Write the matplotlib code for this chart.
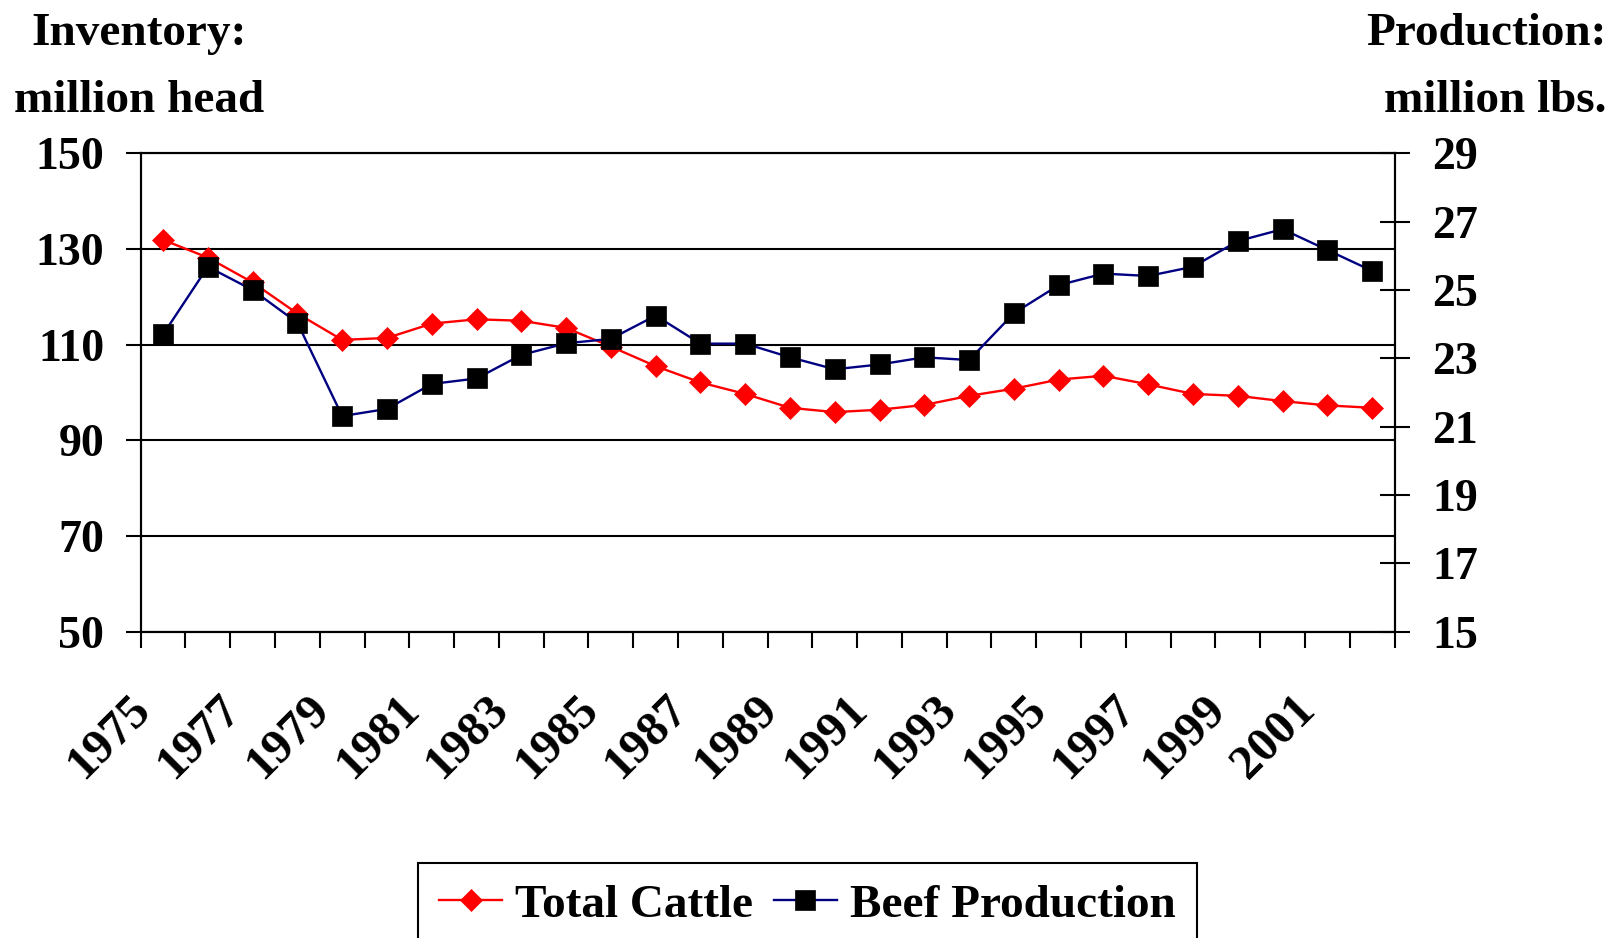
import matplotlib
matplotlib.use("Agg")
import matplotlib.pyplot as plt
import matplotlib.transforms as mtransforms

plt.rcParams['font.family'] = ['Liberation Serif', 'DejaVu Serif']
plt.rcParams['font.weight'] = 'bold'

# ---- data ----
years = list(range(1975, 2003))
total_cattle = [131.9, 128.2, 123.0, 116.5, 111.0, 111.4, 114.4, 115.3, 115.0, 113.5,
                109.6, 105.5, 102.1, 99.7, 96.8, 95.9, 96.4, 97.4, 99.3, 100.8,
                102.7, 103.5, 101.7, 99.7, 99.3, 98.2, 97.3, 96.8]
beef_production = [23.70, 25.68, 25.00, 24.04, 21.31, 21.52, 22.25, 22.41, 23.10, 23.44,
                   23.57, 24.25, 23.43, 23.43, 23.03, 22.68, 22.82, 23.03, 22.95, 24.32,
                   25.14, 25.48, 25.41, 25.68, 26.43, 26.78, 26.17, 25.56]
left_ticks = [50, 70, 90, 110, 130, 150]
right_ticks = [15, 17, 19, 21, 23, 25, 27, 29]
label_years = years[::2]
series_names = ["Total Cattle", "Beef Production"]
left_title = ["Inventory:", "million head"]
right_title = ["Production:", "million lbs."]

W, H, DPI = 1622, 938, 100
fig = plt.figure(figsize=(W / DPI, H / DPI), dpi=DPI)
ax = fig.add_axes([140.7 / W, 1 - 631.7 / H, (1394.5 - 140.7) / W, (631.7 - 153.3) / H])
ax2 = ax.twinx()

x = list(range(len(years)))
ax.set_xlim(-0.5, len(years) - 0.5)
ax.set_ylim(left_ticks[0], left_ticks[-1])
ax2.set_ylim(right_ticks[0], right_ticks[-1])

l1, = ax.plot(x, total_cattle, color='#FF0000', lw=1.7, marker='D', markersize=11.5,
              markerfacecolor='#FF0000', markeredgecolor='#FF0000', markeredgewidth=0.5,
              zorder=3, label=series_names[0])
l2, = ax2.plot(x, beef_production, color='#000080', lw=1.7, marker='s', markersize=14,
               markerfacecolor='black', markeredgecolor='black', markeredgewidth=0.5,
               zorder=3, label=series_names[1])

# grid
ax.set_yticks(left_ticks)
ax.yaxis.grid(True, color='black', lw=1.5)
ax.set_axisbelow(True)
ax.tick_params(axis='y', direction='out', length=10.8, width=1.5, pad=15.6, labelsize=33)
ax2.set_yticks(right_ticks)
ax2.tick_params(axis='y', direction='inout', length=21.6, width=1.5, pad=16.2, labelsize=33)

# x ticks at category boundaries
ax.set_xticks([i - 0.5 for i in range(len(years) + 1)])
ax.set_xticklabels([])
ax.tick_params(axis='x', direction='out', length=11.5, width=1.5)

for a in (ax, ax2):
    for s in a.spines.values():
        s.set_color('black')
        s.set_linewidth(1.5)

# rotated year labels
trans = mtransforms.blended_transform_factory(ax.transData, ax.transAxes) + \
    mtransforms.ScaledTranslation(-35 / DPI, -55 / DPI, fig.dpi_scale_trans)
for i, yr in enumerate(years):
    if yr in label_years:
        ax.text(i, 0, str(yr), transform=trans, rotation=45, ha='right', va='top',
                rotation_mode='anchor', fontsize=35, fontweight='bold')

# axis titles
fig.text(139.5 / W, 1 - 45 / H, left_title[0], ha='center', va='baseline', fontsize=34, fontweight='bold')
fig.text(139.5 / W, 1 - 112 / H, left_title[1], ha='center', va='baseline', fontsize=34, fontweight='bold')
fig.text(1607 / W, 1 - 45 / H, right_title[0], ha='right', va='baseline', fontsize=34, fontweight='bold')
fig.text(1607 / W, 1 - 112 / H, right_title[1], ha='right', va='baseline', fontsize=34, fontweight='bold')

leg = fig.legend(handles=[l1, l2], labels=series_names, loc='upper center',
                 bbox_to_anchor=(807.5 / W, 1 - 862.7 / H), ncol=2,
                 prop={'family': 'Liberation Serif', 'weight': 'bold', 'size': 34},
                 handlelength=1.33, handletextpad=0.28, columnspacing=0.44,
                 borderpad=0.45, borderaxespad=0, fancybox=False, framealpha=1,
                 edgecolor='black')
leg.get_frame().set_linewidth(1.5)

fig.savefig("out.png", dpi=DPI)
